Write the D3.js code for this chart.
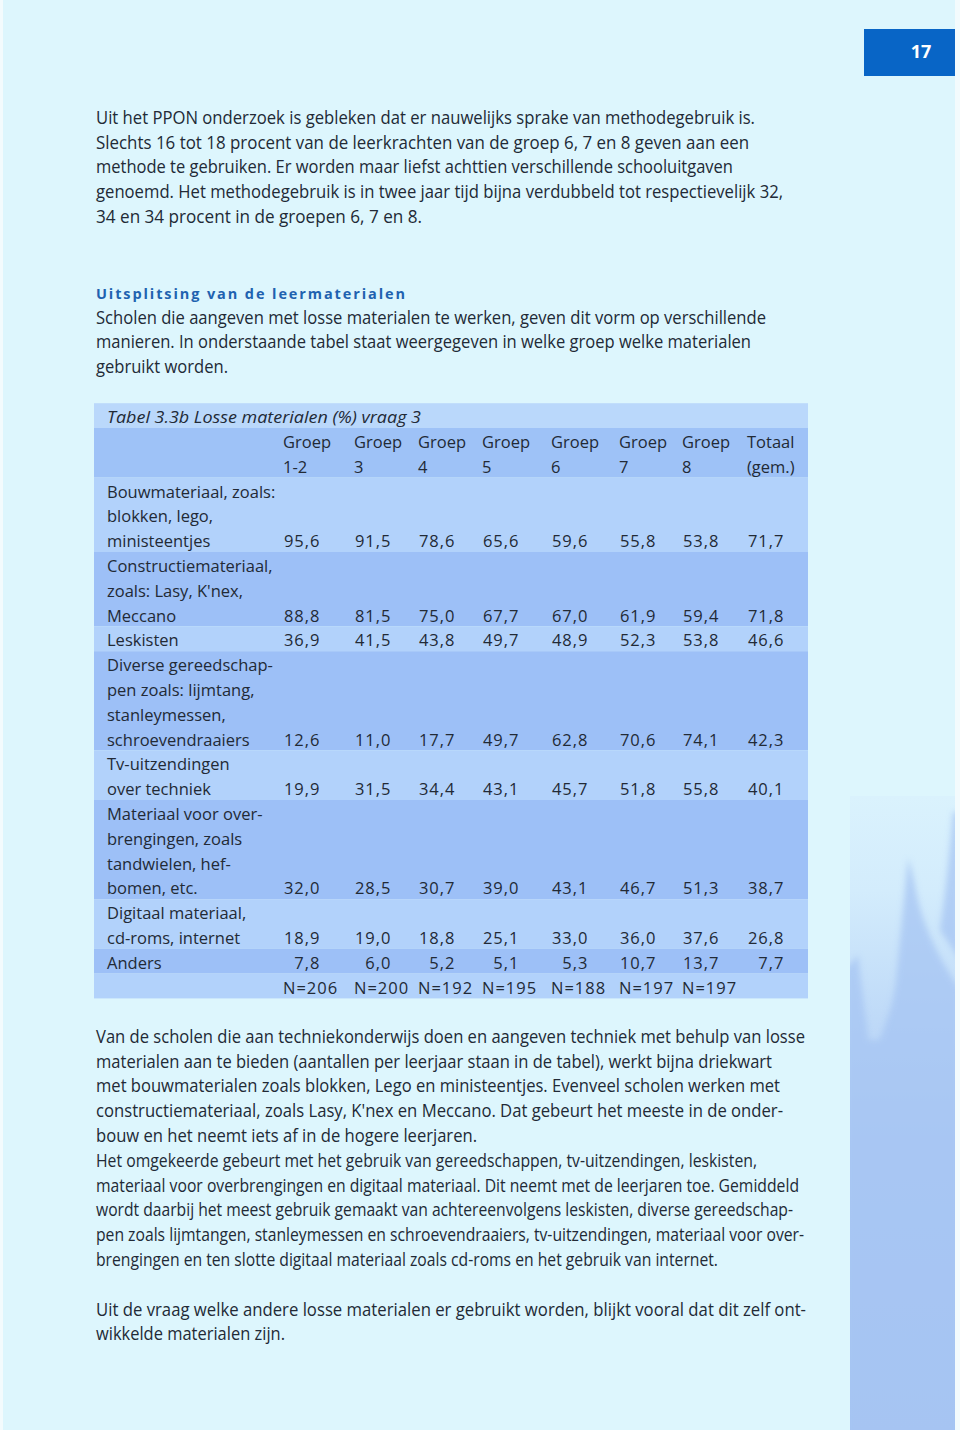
<!DOCTYPE html>
<html><head><meta charset="utf-8">
<script src="https://cdn.jsdelivr.net/npm/d3@7"></script>
<style>body{margin:0;background:#fff}svg{display:block}</style>
</head><body><svg id="c" width="960" height="1430"></svg>
<script>
// ---------- DATA ----------
const pageNumber = "17";
const introText = [
  "Uit het PPON onderzoek is gebleken dat er nauwelijks sprake van methodegebruik is.",
  "Slechts 16 tot 18 procent van de leerkrachten van de groep 6, 7 en 8 geven aan een",
  "methode te gebruiken. Er worden maar liefst achttien verschillende schooluitgaven",
  "genoemd. Het methodegebruik is in twee jaar tijd bijna verdubbeld tot respectievelijk 32,",
  "34 en 34 procent in de groepen 6, 7 en 8."
];
const sectionHeading = "Uitsplitsing van de leermaterialen";
const sectionText = [
  "Scholen die aangeven met losse materialen te werken, geven dit vorm op verschillende",
  "manieren. In onderstaande tabel staat weergegeven in welke groep welke materialen",
  "gebruikt worden."
];
const tableTitle = "Tabel 3.3b Losse materialen (%) vraag 3";
const columnHeaders = [["Groep","1-2"],["Groep","3"],["Groep","4"],["Groep","5"],["Groep","6"],["Groep","7"],["Groep","8"],["Totaal","(gem.)"]];
const rowLabels = [
  ["Bouwmateriaal, zoals:","blokken, lego,","ministeentjes"],
  ["Constructiemateriaal,","zoals: Lasy, K'nex,","Meccano"],
  ["Leskisten"],
  ["Diverse gereedschap-","pen zoals: lijmtang,","stanleymessen,","schroevendraaiers"],
  ["Tv-uitzendingen","over techniek"],
  ["Materiaal voor over-","brengingen, zoals","tandwielen, hef-","bomen, etc."],
  ["Digitaal materiaal,","cd-roms, internet"],
  ["Anders"]
];
const bouwmateriaal        = [95.6, 91.5, 78.6, 65.6, 59.6, 55.8, 53.8, 71.7];
const constructiemateriaal = [88.8, 81.5, 75.0, 67.7, 67.0, 61.9, 59.4, 71.8];
const leskisten            = [36.9, 41.5, 43.8, 49.7, 48.9, 52.3, 53.8, 46.6];
const gereedschappen       = [12.6, 11.0, 17.7, 49.7, 62.8, 70.6, 74.1, 42.3];
const tvUitzendingen       = [19.9, 31.5, 34.4, 43.1, 45.7, 51.8, 55.8, 40.1];
const overbrengingen       = [32.0, 28.5, 30.7, 39.0, 43.1, 46.7, 51.3, 38.7];
const digitaalMateriaal    = [18.9, 19.0, 18.8, 25.1, 33.0, 36.0, 37.6, 26.8];
const anders               = [7.8, 6.0, 5.2, 5.1, 5.3, 10.7, 13.7, 7.7];
const respondents          = [206, 200, 192, 195, 188, 197, 197];
const bodyText = [
  "Van de scholen die aan techniekonderwijs doen en aangeven techniek met behulp van losse",
  "materialen aan te bieden (aantallen per leerjaar staan in de tabel), werkt bijna driekwart",
  "met bouwmaterialen zoals blokken, Lego en ministeentjes. Evenveel scholen werken met",
  "constructiemateriaal, zoals Lasy, K'nex en Meccano. Dat gebeurt het meeste in de onder-",
  "bouw en het neemt iets af in de hogere leerjaren.",
  "Het omgekeerde gebeurt met het gebruik van gereedschappen, tv-uitzendingen, leskisten,",
  "materiaal voor overbrengingen en digitaal materiaal. Dit neemt met de leerjaren toe. Gemiddeld",
  "wordt daarbij het meest gebruik gemaakt van achtereenvolgens leskisten, diverse gereedschap-",
  "pen zoals lijmtangen, stanleymessen en schroevendraaiers, tv-uitzendingen, materiaal voor over-",
  "brengingen en ten slotte digitaal materiaal zoals cd-roms en het gebruik van internet.",
  "",
  "Uit de vraag welke andere losse materialen er gebruikt worden, blijkt vooral dat dit zelf ont-",
  "wikkelde materialen zijn."
];

// ---------- LAYOUT ----------
const W = 960, H = 1430;
const textColor = "#222a36";
const bodyFont = "'Open Sans', sans-serif";
const lineH = 24.8;
const textX = 96;
const introEnds = [755, 749, 733, 783, 422];
const sectionEnds = [766, 751, 228];
const bodyEnds = [805, 772, 780, 783, 477, 757, 799, 793, 804, 718, 0, 806, 285];

const svg = d3.select("#c");
const defs = svg.append("defs");

// page background
svg.append("rect").attr("x",0).attr("y",0).attr("width",W).attr("height",H).attr("fill","#f3fbfd");
svg.append("rect").attr("x",3).attr("y",0).attr("width",952).attr("height",H).attr("fill","#ddf6fd");

// decorative flame panel
const g1 = defs.append("linearGradient").attr("id","flame").attr("x1",0).attr("y1",0).attr("x2",0).attr("y2",1);
[[0,"#daf2fd"],[0.15,"#d3ecfc"],[0.35,"#bfdaf8"],[0.55,"#afcbf4"],[1,"#a6c4f2"]].forEach(([o,c])=>g1.append("stop").attr("offset",o).attr("stop-color",c));
const blur = defs.append("filter").attr("id","soft").attr("x","-20%").attr("y","-20%").attr("width","140%").attr("height","140%");
blur.append("feGaussianBlur").attr("stdDeviation",3);
const clip = defs.append("clipPath").attr("id","panel");
clip.append("rect").attr("x",850).attr("y",796).attr("width",105).attr("height",634);
svg.append("rect").attr("x",850).attr("y",796).attr("width",105).attr("height",634).attr("fill","url(#flame)");
const flames = svg.append("g").attr("clip-path","url(#panel)").append("g")
  .attr("fill","#a6c5f3").attr("opacity",0.75).attr("filter","url(#soft)");
flames.append("path").attr("d","M908,858 C904,900 900,940 896,980 C893,1010 880,1040 870,1060 L960,1060 L960,990 C940,960 925,930 918,900 C914,880 911,866 908,858 Z");
flames.append("path").attr("d","M858,955 C862,990 866,1020 870,1050 L845,1060 L845,970 Z");
flames.append("path").attr("d","M953,812 C950,850 946,890 940,930 L960,960 L960,812 Z");
flames.append("path").attr("d","M845,1040 L960,1040 L960,1440 L845,1440 Z");

// page number
svg.append("rect").attr("x",864).attr("y",29).attr("width",91).attr("height",47).attr("fill","#0865c6");
svg.append("text").attr("x",921).attr("y",58).attr("text-anchor","middle")
  .attr("font-family",bodyFont).attr("font-weight",700).attr("font-size",18).attr("fill","#fff").text(pageNumber);

// paragraph helper
function para(lines, ends, firstCenter) {
  const y = d3.scaleLinear().domain([0,1]).range([firstCenter, firstCenter + lineH]);
  svg.append("g").selectAll("text").data(lines.map((t,i)=>({t,i,end:ends[i]})).filter(d=>d.t))
    .join("text")
    .attr("x", textX).attr("y", d => y(d.i) + 5.8)
    .attr("font-family", bodyFont).attr("font-size", 17.5).attr("fill", textColor)
    .attr("textLength", d => d.end - textX).attr("lengthAdjust","spacingAndGlyphs")
    .text(d => d.t);
}
para(introText, introEnds, 118);
svg.append("text").attr("x",textX).attr("y",298.5)
  .attr("font-family",bodyFont).attr("font-weight",700).attr("font-size",14.5).attr("fill","#1f62b0")
  .attr("letter-spacing",2).attr("textLength",311).attr("lengthAdjust","spacing").text(sectionHeading);
para(sectionText, sectionEnds, 317.8);
para(bodyText, bodyEnds, 1037);

// ---------- TABLE ----------
const series = [bouwmateriaal, constructiemateriaal, leskisten, gereedschappen, tvUitzendingen, overbrengingen, digitaalMateriaal, anders];
const tableTop = 403.2, tableLeft = 94, tableRight = 808;
const fmt = d3.formatLocale({decimal: ",", thousands: ".", grouping: [3], currency: ["€",""]}).format(".1f");
const colKeys = columnHeaders.map((d,i)=>i);
const xCol = d3.scaleOrdinal().domain(colKeys).range([283, 354, 418, 482, 551, 619, 682, 747]);
const numRight = 37.5;
const yLine = d3.scaleLinear().domain([0,1]).range([tableTop, tableTop + lineH]);

// build row blocks
const blocks = [];
let li = 0;
blocks.push({kind:"title", start:li, n:1, fill:"#bad8fb"}); li += 1;
blocks.push({kind:"header", start:li, n:2, fill:"#9ec2f7"}); li += 2;
rowLabels.forEach((lab, r) => {
  blocks.push({kind:"row", r, start:li, n:lab.length, fill: r % 2 === 0 ? "#b2d2fb" : "#9dc0f7"});
  li += lab.length;
});
blocks.push({kind:"n", start:li, n:1, fill:"#b2d2fb"}); li += 1;

const tg = svg.append("g").attr("font-family", bodyFont).attr("font-size", 16.5).attr("fill", textColor);
tg.selectAll("rect.bg").data(blocks).join("rect").attr("class","bg")
  .attr("x", tableLeft).attr("width", tableRight - tableLeft)
  .attr("y", d => yLine(d.start)).attr("height", d => yLine(d.start + d.n) - yLine(d.start))
  .attr("fill", d => d.fill);

const base = 20;
// title
tg.append("text").attr("x",107).attr("y", yLine(0)+base).attr("font-style","italic")
  .attr("textLength",314).attr("lengthAdjust","spacingAndGlyphs").text(tableTitle);
// headers
columnHeaders.forEach((hdr, c) => {
  hdr.forEach((t, k) => tg.append("text").attr("x", xCol(c)).attr("y", yLine(1 + k) + base).text(t));
});
// rows
blocks.filter(b => b.kind === "row").forEach(b => {
  tg.append("g").selectAll("text").data(rowLabels[b.r]).join("text")
    .attr("x", 107).attr("y", (d,k) => yLine(b.start + k) + base).text(d => d);
  const lastY = yLine(b.start + b.n - 1) + base;
  tg.append("g").selectAll("text").data(series[b.r]).join("text")
    .attr("x", (d,c) => xCol(c) + numRight).attr("y", lastY).attr("text-anchor","end")
    .attr("letter-spacing", 1).text(d => fmt(d));
});
// respondents
const nb = blocks.find(b => b.kind === "n");
tg.append("g").selectAll("text").data(respondents).join("text")
  .attr("x", (d,c) => xCol(c)).attr("y", yLine(nb.start) + base)
  .attr("letter-spacing", 1).text(d => "N=" + d);
</script></body></html>
